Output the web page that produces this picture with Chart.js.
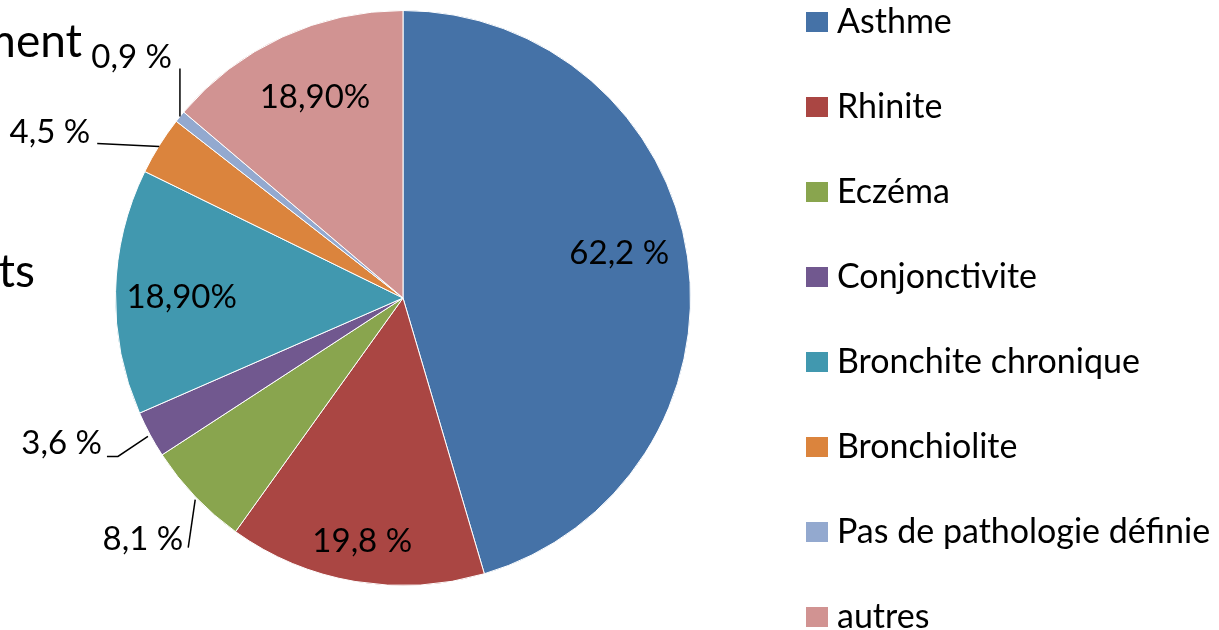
<!DOCTYPE html>
<html>
<head>
<meta charset="utf-8">
<script src="https://cdn.jsdelivr.net/npm/chart.js@4.4.1/dist/chart.umd.min.js"></script>
<style>
  html, body { margin: 0; padding: 0; background: #ffffff; }
  #wrap { width: 1219px; height: 630px; position: relative; }
</style>
</head>
<body>
<div id="wrap"><canvas id="c" width="1219" height="630"></canvas></div>
<script>
// ---- data ----
const categories = ['Asthme', 'Rhinite', 'Eczéma', 'Conjonctivite', 'Bronchite chronique', 'Bronchiolite', 'Pas de pathologie définie', 'autres'];
const values = [62.2, 19.8, 8.1, 3.6, 18.9, 4.5, 0.9, 18.9];
const valueLabels = ['62,2 %', '19,8 %', '8,1 %', '3,6 %', '18,90%', '4,5 %', '0,9 %', '18,90%'];
const titleFragments = ['ment', 'ts'];

// ---- styles ----
const colors = ['#4572A7', '#AA4643', '#89A54E', '#71588F', '#4198AF', '#DB843D', '#93A9CF', '#D19392'];
const FONT = 'Lato, "Open Sans", sans-serif';

// label placement (relative to arc geometry)
const labelPlacement = [
  { type: 'inside', r: 0.76, dy: -13 },
  { type: 'inside', r: 0.85, dy: 2 },
  { type: 'outside', leader: [[0, 3], [-7, 51]], text: [-12, 43] },
  { type: 'outside', leader: [[-2, 2], [-32, 22], [-43, 22]], text: [-48, 9] },
  { type: 'inside', r: 0.77, dy: 4 },
  { type: 'outside', leader: [[0, 1], [-62, -2]], text: [-69, -13] },
  { type: 'outside', leader: [[0, 0], [0, -48]], text: [-8, -59] },
  { type: 'inside', r: 0.77, dx: 5 }
];

const overlayPlugin = {
  id: 'overlay',
  afterDraw(chart) {
    const ctx = chart.ctx;
    const meta = chart.getDatasetMeta(0);
    ctx.save();
    // data labels
    ctx.fillStyle = '#000';
    ctx.font = '33px ' + FONT;
    ctx.textBaseline = 'middle';
    meta.data.forEach((arc, i) => {
      const p = arc.getProps(['x', 'y', 'startAngle', 'endAngle', 'outerRadius'], true);
      const mid = (p.startAngle + p.endAngle) / 2;
      const pl = labelPlacement[i];
      if (pl.type === 'inside') {
        const r = p.outerRadius * pl.r;
        ctx.textAlign = 'center';
        ctx.fillText(valueLabels[i], p.x + Math.cos(mid) * r + (pl.dx || 0), p.y + Math.sin(mid) * r + (pl.dy || 0));
      } else {
        const ax = p.x + Math.cos(mid) * p.outerRadius;
        const ay = p.y + Math.sin(mid) * p.outerRadius;
        ctx.strokeStyle = '#000';
        ctx.lineWidth = 1.5;
        ctx.beginPath();
        pl.leader.forEach((pt, k) => {
          if (k === 0) ctx.moveTo(ax + pt[0], ay + pt[1]);
          else ctx.lineTo(ax + pt[0], ay + pt[1]);
        });
        ctx.stroke();
        ctx.textAlign = 'right';
        ctx.fillText(valueLabels[i], ax + pl.text[0], ay + pl.text[1]);
      }
    });
    // legend
    ctx.font = '34px ' + FONT;
    ctx.textAlign = 'left';
    ctx.textBaseline = 'middle';
    categories.forEach((c, i) => {
      const y = 22 + i * 85;
      ctx.fillStyle = colors[i];
      ctx.fillRect(806, y - 10, 22, 20);
      ctx.fillStyle = '#000';
      ctx.fillText(c, 837, y);
    });
    // clipped title fragments
    ctx.font = '46px ' + FONT;
    ctx.textAlign = 'right';
    ctx.textBaseline = 'alphabetic';
    ctx.fillText(titleFragments[0], 82, 57);
    ctx.fillText(titleFragments[1], 35, 287);
    ctx.restore();
  }
};

new Chart(document.getElementById('c'), {
  type: 'pie',
  data: {
    labels: categories,
    datasets: [{
      data: values,
      backgroundColor: colors,
      borderColor: '#ffffff',
      borderWidth: 1
    }]
  },
  options: {
    responsive: false,
    animation: false,
    layout: { padding: { top: 10, bottom: 44, left: 115, right: 528 } },
    plugins: {
      legend: { display: false },
      tooltip: { enabled: false },
      title: { display: false }
    }
  },
  plugins: [overlayPlugin]
});
</script>
</body>
</html>
